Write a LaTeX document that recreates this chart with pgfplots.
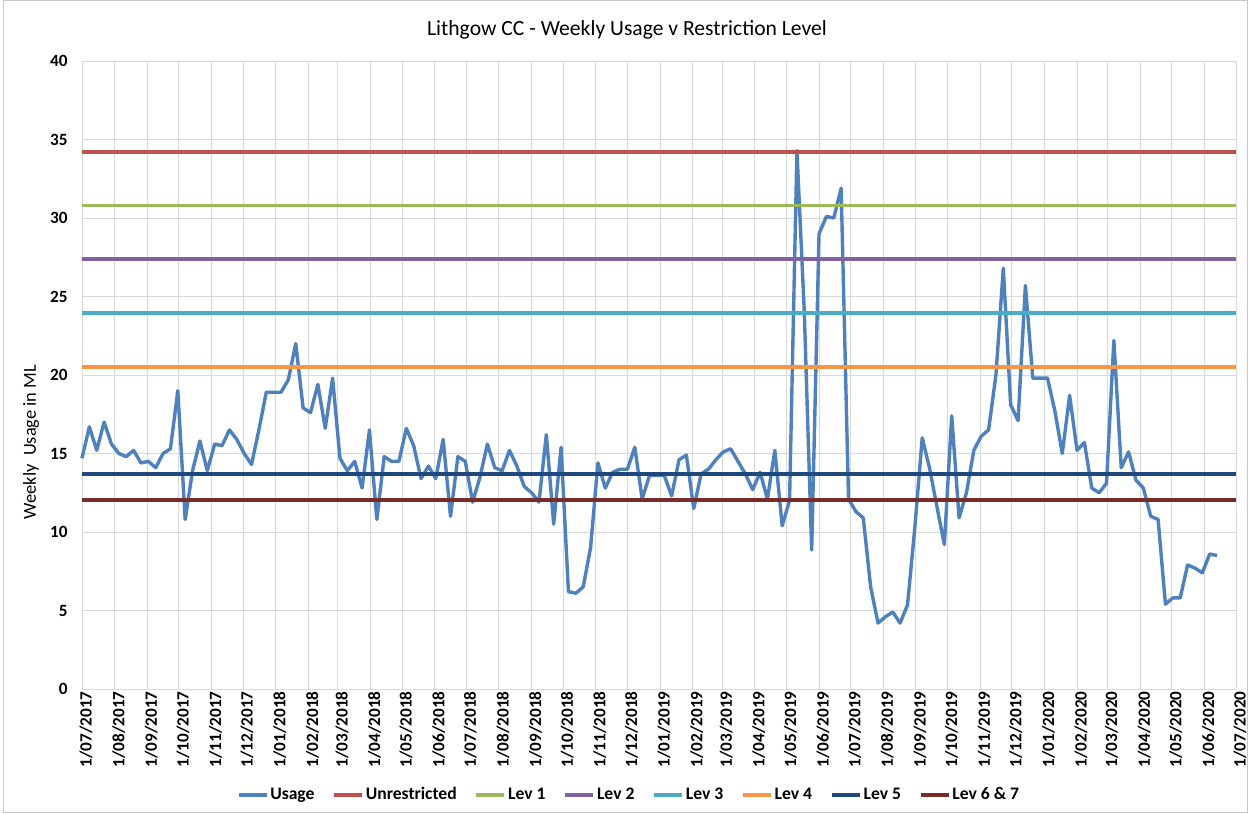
\documentclass[border=0pt]{standalone}
\usepackage{pgfplots}
\pgfplotsset{compat=1.18}
\usepackage{pgfplotstable}
\usepackage{fontspec}
\setmainfont{Carlito}
\definecolor{cUsage}{HTML}{4F81BD}
\definecolor{cUnr}{HTML}{C0504D}
\definecolor{cL1}{HTML}{9BBB59}
\definecolor{cL2}{HTML}{8064A2}
\definecolor{cL3}{HTML}{4BACC6}
\definecolor{cL4}{HTML}{F79646}
\definecolor{cL5}{HTML}{1F497D}
\definecolor{cL6}{HTML}{772C2A}
\definecolor{cGrid}{HTML}{D9D9D9}
\pgfplotstableread{
y
14.7
16.7
15.2
17.0
15.6
15.0
14.8
15.2
14.4
14.5
14.1
15.0
15.3
19.0
10.8
13.9
15.8
13.9
15.6
15.5
16.5
15.9
15.0
14.3
16.5
18.9
18.9
18.9
19.7
22.0
17.9
17.6
19.4
16.6
19.8
14.7
13.9
14.5
12.8
16.5
10.8
14.8
14.5
14.5
16.6
15.5
13.4
14.2
13.4
15.9
11.0
14.8
14.5
11.9
13.5
15.6
14.1
13.9
15.2
14.2
12.9
12.5
11.9
16.2
10.5
15.4
6.2
6.1
6.5
9.0
14.4
12.8
13.8
14.0
14.0
15.4
12.1
13.6
13.6
13.6
12.3
14.6
14.9
11.5
13.7
14.0
14.6
15.1
15.3
14.5
13.7
12.7
13.8
12.1
15.2
10.4
12.0
34.3
24.0
8.85
29.0
30.1
30.0
31.9
12.1
11.3
10.9
6.5
4.2
4.6
4.9
4.2
5.35
10.3
16.0
14.05
11.6
9.2
17.4
10.9
12.5
15.2
16.1
16.5
20.0
26.8
18.1
17.1
25.7
19.8
19.8
19.8
17.7
15.0
18.7
15.2
15.7
12.8
12.5
13.1
22.2
14.1
15.1
13.3
12.8
11.0
10.8
5.4
5.8
5.8
7.9
7.7
7.4
8.6
8.5
}\usage
\begin{document}
\begin{tikzpicture}
\useasboundingbox (0,0) rectangle (624pt,407pt);
\fill[white] (0,0) rectangle (624pt,407pt);
\draw[black!22, line width=0.5pt] (1.5pt,0.5pt) rectangle (623.5pt,406.5pt);
\begin{axis}[
  at={(41pt,62.5pt)}, anchor=south west,
  scale only axis, width=577pt, height=314pt,
  xmin=0, xmax=1096, ymin=0, ymax=40,
  ytick={0,5,...,40},
  xtick={0,31,62,92,123,153,184,215,243,274,304,335,365,396,427,457,488,518,549,580,608,639,669,700,730,761,792,822,853,883,914,945,974,1005,1035,1066,1096},
  xticklabels={1/07/2017,1/08/2017,1/09/2017,1/10/2017,1/11/2017,1/12/2017,1/01/2018,1/02/2018,1/03/2018,1/04/2018,1/05/2018,1/06/2018,1/07/2018,1/08/2018,1/09/2018,1/10/2018,1/11/2018,1/12/2018,1/01/2019,1/02/2019,1/03/2019,1/04/2019,1/05/2019,1/06/2019,1/07/2019,1/08/2019,1/09/2019,1/10/2019,1/11/2019,1/12/2019,1/01/2020,1/02/2020,1/03/2020,1/04/2020,1/05/2020,1/06/2020,1/07/2020},
  xticklabel style={rotate=90, anchor=east, font=\bfseries\fontsize{8.6}{10}\selectfont, inner sep=1pt, yshift=-2pt},
  yticklabel style={font=\bfseries\fontsize{8.6}{10}\selectfont, inner sep=1pt, xshift=-6pt},
  /pgf/number format/assume math mode=true,
  major tick length=0pt,
  grid=major,
  major grid style={cGrid, line width=0.5pt},
  axis line style={cGrid, line width=0.5pt},
  legend columns=-1,
  legend style={at={(0.474,-0.169)}, anchor=center, draw=none, fill=none,
    font=\bfseries\fontsize{8.8}{10}\selectfont,
    /tikz/every even column/.append style={column sep=8pt},
    nodes={inner sep=1pt}},
  legend image code/.code={\draw[#1] (0pt,0pt) -- (14pt,0pt);},
  clip=false,
]
\addplot[cUsage, line width=1.7pt, line join=round] table[x expr=\coordindex*7, y=y] {\usage};
\addlegendentry{Usage}
\addplot[cUnr, line width=1.7pt] coordinates {(0,34.2) (1096,34.2)};
\addlegendentry{Unrestricted}
\addplot[cL1, line width=1.7pt] coordinates {(0,30.8) (1096,30.8)};
\addlegendentry{Lev 1}
\addplot[cL2, line width=1.7pt] coordinates {(0,27.4) (1096,27.4)};
\addlegendentry{Lev 2}
\addplot[cL3, line width=1.7pt] coordinates {(0,23.95) (1096,23.95)};
\addlegendentry{Lev 3}
\addplot[cL4, line width=1.7pt] coordinates {(0,20.5) (1096,20.5)};
\addlegendentry{Lev 4}
\addplot[cL5, line width=1.7pt] coordinates {(0,13.7) (1096,13.7)};
\addlegendentry{Lev 5}
\addplot[cL6, line width=1.7pt] coordinates {(0,12.05) (1096,12.05)};
\addlegendentry{Lev 6 \& 7}
\end{axis}
\node at (313.5pt,392pt) {\fontsize{10.8}{12}\selectfont Lithgow CC - Weekly Usage v Restriction Level};
\node[rotate=90] at (15.5pt,186pt) {\fontsize{9.2}{11}\selectfont Weekly\ \ Usage in ML};
\end{tikzpicture}
\end{document}
